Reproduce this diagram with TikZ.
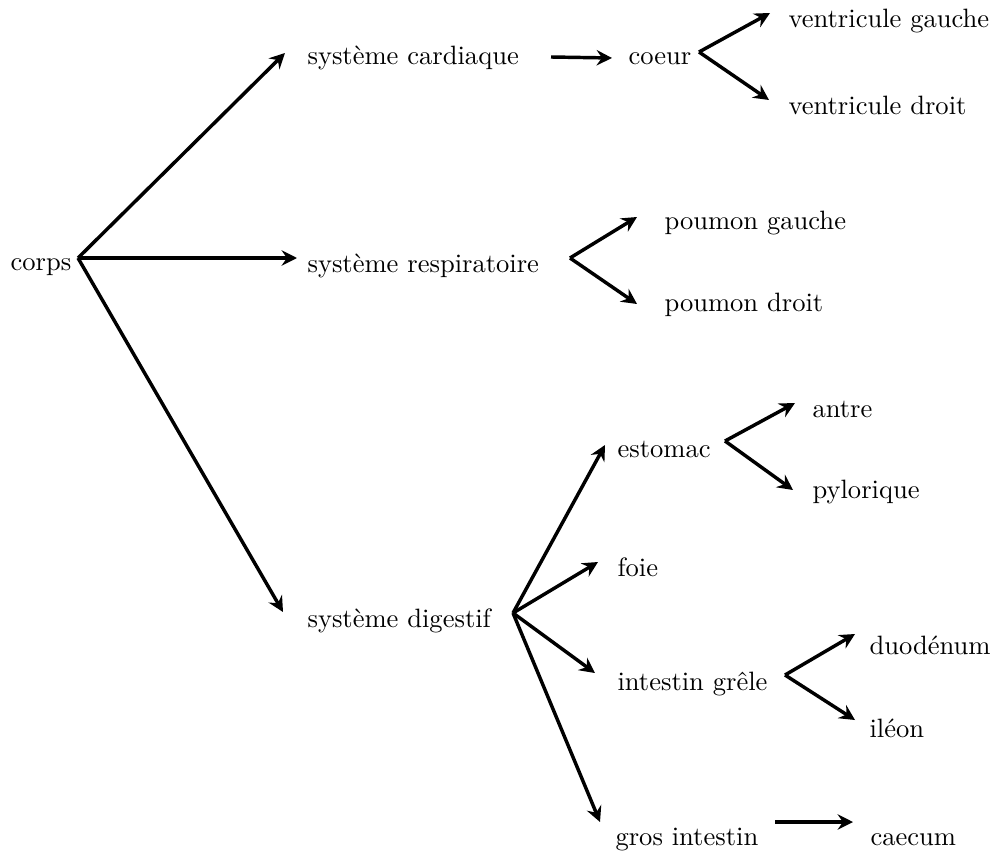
\documentclass[tikz,border=0pt]{standalone}
\usetikzlibrary{arrows.meta}
\begin{document}
\begin{tikzpicture}[x=0.3766pt,y=-0.3766pt,
  lbl/.style={anchor=base west,inner sep=0pt,font=\normalsize},
  arr/.style={line width=1.3pt,-{Stealth[length=5.8pt,width=5.8pt,inset=2pt]}}]
\useasboundingbox (0,0) rectangle (998,855);
% text nodes
\node[lbl] (corps) at (10,270) {corps};
\node[lbl] (card) at (307,65) {système cardiaque};
\node[lbl] (resp) at (307,272) {système respiratoire};
\node[lbl] (dig) at (307,627) {système digestif};
\node[lbl] (coeur) at (628,65) {coeur};
\node[lbl] (vg) at (788,28) {ventricule gauche};
\node[lbl] (vd) at (788,115) {ventricule droit};
\node[lbl] (pg) at (664,229) {poumon gauche};
\node[lbl] (pd) at (664,311) {poumon droit};
\node[lbl] (est) at (617,457) {estomac};
\node[lbl] (antre) at (812,417) {antre};
\node[lbl] (pyl) at (812,498) {pylorique};
\node[lbl] (foie) at (617,576) {foie};
\node[lbl] (ig) at (617,690) {intestin grêle};
\node[lbl] (duo) at (869,654) {duodénum};
\node[lbl] (ile) at (869,737) {iléon};
\node[lbl] (gi) at (615,845) {gros intestin};
\node[lbl] (caec) at (870,845) {caecum};
% fork points and arrow ends
\coordinate (fcorps) at (78,258);
\coordinate (ecard) at (285,53);
\coordinate (eresp) at (297,258);
\coordinate (edig) at (283,612);
\coordinate (fcard) at (551,57);
\coordinate (ecoeur) at (612,58);
\coordinate (fcoeur) at (699,52);
\coordinate (evg) at (770,13);
\coordinate (evd) at (769,100);
\coordinate (fresp) at (570,258);
\coordinate (epg) at (637,217);
\coordinate (epd) at (637,304);
\coordinate (fdig) at (513,613);
\coordinate (eest) at (605,445);
\coordinate (efoie) at (598,562);
\coordinate (eig) at (595,673);
\coordinate (egi) at (600,822);
\coordinate (fest) at (725,441);
\coordinate (eantre) at (795,403);
\coordinate (epyl) at (793,490);
\coordinate (fig) at (785,675);
\coordinate (eduo) at (855,634);
\coordinate (eile) at (855,720);
\coordinate (fgi) at (775,822);
\coordinate (ecaec) at (853,822);
% connectors
\draw[arr] (fcorps) -- (ecard);
\draw[arr] (fcorps) -- (eresp);
\draw[arr] (fcorps) -- (edig);
\draw[arr] (fcard) -- (ecoeur);
\draw[arr] (fcoeur) -- (evg);
\draw[arr] (fcoeur) -- (evd);
\draw[arr] (fresp) -- (epg);
\draw[arr] (fresp) -- (epd);
\draw[arr] (fdig) -- (eest);
\draw[arr] (fdig) -- (efoie);
\draw[arr] (fdig) -- (eig);
\draw[arr] (fdig) -- (egi);
\draw[arr] (fest) -- (eantre);
\draw[arr] (fest) -- (epyl);
\draw[arr] (fig) -- (eduo);
\draw[arr] (fig) -- (eile);
\draw[arr] (fgi) -- (ecaec);
\end{tikzpicture}
\end{document}
